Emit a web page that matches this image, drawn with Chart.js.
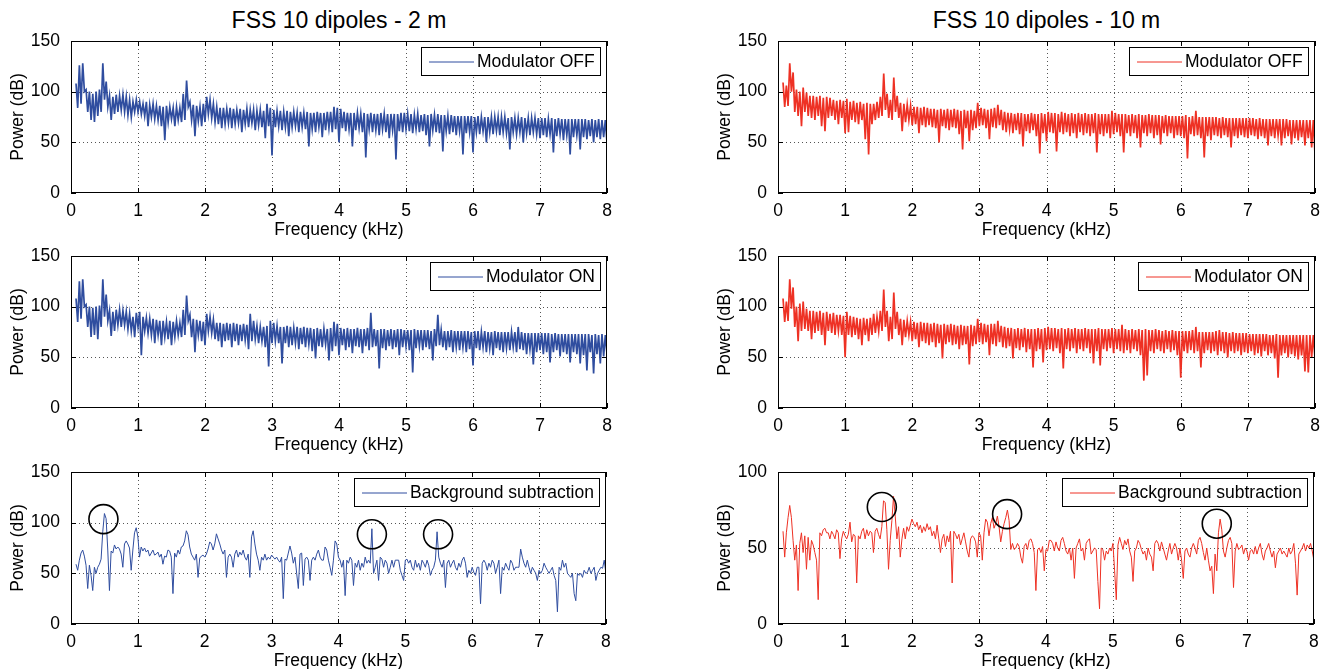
<!DOCTYPE html>
<html><head><meta charset="utf-8">
<script src="https://cdn.jsdelivr.net/npm/chart.js@4.4.1/dist/chart.umd.min.js"></script>
<style>
html,body{margin:0;padding:0;background:#fff;overflow:hidden;}
#fig{position:relative;width:1333px;height:669px;overflow:hidden;}
#fig canvas{position:absolute;}
.ttl{position:absolute;top:7px;font-family:"Liberation Sans",Arial,Helvetica,sans-serif;font-size:23px;line-height:26px;color:#000;white-space:nowrap;transform:translateX(-50%);}
</style></head><body><div id="fig"></div>
<script>
// ---------------- DATA ----------------
const freqStart = 0.075;            // kHz, first sample
const freqStep = 0.025;             // kHz between samples
const freqTicks = [0,1,2,3,4,5,6,7,8];
const powTicks150 = [0,50,100,150];
const powTicks100 = [0,50,100];
const titles = ['FSS 10 dipoles - 2 m', 'FSS 10 dipoles - 10 m'];
const seriesNames = ['Modulator OFF', 'Modulator ON', 'Background subtraction'];

// 2 m, modulator OFF (dB)
const off2m = [
108,84, 126,88, 128,100, 102,80, 100,72, 98,70, 100,76, 102,80, 128,92, 110,85,
96,72, 95,78, 97,80, 96,82, 97,80, 95,77, 92,75, 90,80, 92,80, 90,78,
88,76, 90,66, 87,75, 88,73, 86,72, 86,66, 85,52, 86,70, 85,73, 84,66,
85,72, 84,70, 98,72, 111,85, 90,72, 87,56, 86,71, 85,66, 88,70, 95,78,
92,74, 88,70, 85,68, 84,64, 84,68, 83,69, 84,64, 83,68, 82,69, 83,60,
82,68, 83,65, 82,69, 82,62, 81,67, 82,65, 81,54, 88,66, 84,37, 82,65,
81,66, 81,62, 80,65, 81,56, 80,65, 80,66, 79,60, 80,65, 79,63, 80,46,
79,63, 79,60, 80,65, 79,55, 79,62, 80,64, 80,60, 85,63, 84,50, 83,64,
80,61, 79,63, 79,46, 79,62, 79,64, 78,60, 79,35, 78,63, 79,60, 78,62,
78,57, 79,63, 78,60, 78,54, 78,62, 78,33, 78,61, 79,60, 79,63, 78,61,
78,59, 77,63, 78,60, 77,61, 78,57, 77,46, 78,62, 77,60, 78,59, 77,41,
77,61, 76,58, 77,60, 76,57, 76,61, 76,38, 76,59, 76,60, 76,40, 75,60,
76,58, 75,61, 75,50, 75,60, 75,58, 75,61, 75,57, 75,60, 75,59, 74,43,
75,60, 74,58, 74,60, 75,50, 74,59, 74,57, 74,60, 74,58, 74,54, 74,57,
74,55, 73,58, 74,40, 73,56, 74,58, 73,52, 73,57, 73,38, 73,55, 73,57,
73,43, 73,55, 73,53, 72,56, 73,50, 72,55, 73,53, 72,55, 72,50
];
// 2 m, modulator ON (dB)
const on2m = [
108,85, 125,88, 127,100, 102,80, 100,70, 99,72, 100,68, 101,80, 127,90, 112,86,
96,71, 95,76, 97,82, 97,80, 96,82, 95,78, 93,76, 90,70, 94,80, 95,52,
90,76, 89,74, 88,72, 88,64, 87,72, 86,62, 86,70, 85,68, 86,62, 85,70,
86,72, 84,70, 97,72, 111,86, 92,70, 88,55, 87,72, 86,66, 85,62, 93,76,
90,74, 87,68, 84,66, 84,60, 83,66, 84,67, 83,60, 84,66, 83,62, 82,66,
83,67, 82,58, 93,66, 86,68, 81,64, 80,66, 80,60, 81,41, 86,64, 84,66,
81,64, 80,44, 80,64, 81,60, 80,62, 79,64, 80,58, 79,63, 80,60, 79,63,
79,56, 78,49, 79,61, 78,60, 78,63, 78,47, 79,56, 85,61, 83,52, 79,62,
78,57, 79,60, 78,54, 78,61, 79,60, 78,54, 78,61, 79,57, 94,60, 78,61,
77,39, 78,59, 78,57, 77,61, 78,58, 77,60, 78,52, 78,60, 77,61, 77,57,
77,35, 78,59, 77,61, 77,57, 77,60, 77,58, 76,47, 78,61, 92,62, 77,60,
76,57, 76,60, 77,55, 76,60, 76,57, 76,60, 76,55, 76,58, 75,42, 76,59,
76,57, 75,60, 76,55, 75,59, 75,52, 76,59, 75,57, 75,55, 75,59, 75,57,
75,60, 75,55, 80,58, 75,57, 74,53, 74,58, 74,43, 74,55, 74,57, 74,53,
74,55, 74,45, 73,55, 74,57, 73,51, 73,55, 73,53, 73,45, 73,55, 73,53,
73,44, 73,52, 73,37, 73,55, 72,34, 73,53, 72,44, 73,51, 72,53
];
// 2 m, background subtraction (dB)
const sub2m = [
59,53,63,70,73,67,58,35,58,48,33,56,50,56,59,64,91,109,104,73,
33,72,70,78,74,76,74,69,56,79,82,79,75,53,73,90,95,86,66,76,
72,75,71,73,67,70,73,68,69,71,66,69,59,67,66,73,72,66,30,70,
66,73,69,76,77,82,92,88,76,69,66,63,69,46,65,67,68,66,69,74,
81,79,73,79,89,84,79,73,69,73,46,66,69,66,56,69,73,66,71,68,
73,66,63,69,46,86,92,79,69,63,53,66,63,69,63,66,64,68,66,64,
66,63,61,66,25,64,63,70,77,70,60,66,50,35,69,70,38,64,66,63,
43,63,66,63,69,73,66,63,63,76,73,63,56,48,63,82,79,66,63,56,
63,28,63,60,66,63,38,60,56,63,53,60,56,66,60,63,60,94,50,56,
63,43,66,64,56,63,60,50,56,63,56,63,63,63,53,48,43,63,64,60,
63,56,53,63,56,60,53,63,60,56,63,58,48,53,56,63,91,66,60,56,
63,36,60,63,56,60,63,56,53,60,56,63,66,60,46,53,50,56,51,48,
56,56,20,60,63,60,53,60,56,63,60,50,56,63,30,56,53,60,56,53,
63,60,53,56,56,56,74,66,60,56,63,56,50,56,53,50,43,53,50,53,
60,56,53,50,53,56,48,43,12,56,53,63,56,60,50,48,46,50,30,23,
50,48,50,46,53,50,51,56,50,53,56,43,50,53,56,55,63,50
];
// 10 m, modulator OFF (dB)
const off10m = [
109,85, 106,86, 128,100, 119,80, 102,76, 100,66, 104,80, 99,76, 96,74, 96,72,
95,76, 96,66, 94,61, 95,74, 94,76, 92,72, 91,68, 92,74, 91,59, 93,60,
90,72, 91,70, 89,68, 90,72, 88,53, 89,38, 88,68, 88,72, 90,74, 95,76,
118,82, 98,74, 92,72, 114,80, 96,74, 89,61, 88,70, 87,72, 86,67, 85,68,
85,59, 84,67, 85,65, 84,67, 83,65, 83,64, 82,50, 83,66, 82,64, 83,62,
82,65, 83,64, 82,58, 81,43, 82,64, 81,51, 82,62, 81,64, 89,66, 84,67,
83,64, 82,53, 83,65, 84,64, 87,67, 82,62, 80,60, 79,63, 79,59, 78,62,
79,58, 79,46, 78,61, 78,59, 79,62, 78,56, 78,39, 79,59, 78,51, 80,60,
79,59, 79,41, 78,60, 80,58, 79,60, 78,56, 79,59, 78,54, 79,60, 78,57,
79,59, 78,56, 78,59, 79,40, 78,58, 78,56, 78,59, 78,54, 81,58, 79,60,
78,56, 78,40, 78,59, 77,56, 78,59, 77,54, 78,45, 77,59, 77,56, 78,59,
77,54, 77,57, 77,48, 76,59, 77,56, 76,59, 76,54, 76,57, 76,56, 76,54,
77,34, 75,58, 76,56, 81,57, 75,54, 75,35, 75,56, 75,52, 75,57, 75,56,
74,54, 75,57, 74,55, 74,45, 74,56, 74,54, 74,57, 74,55, 74,54, 74,57,
74,56, 73,53, 74,56, 73,54, 73,47, 73,56, 73,54, 73,57, 73,47, 73,54,
73,56, 72,48, 72,54, 72,52, 72,55, 72,47, 72,54, 72,45, 72,38
];
// 10 m, modulator ON (dB)
const on10m = [
108,85, 105,86, 127,98, 119,80, 100,66, 103,76, 105,78, 98,76, 96,68, 96,74,
95,76, 96,72, 94,62, 95,76, 93,74, 94,72, 92,76, 92,72, 91,50, 95,72,
91,70, 90,72, 89,68, 88,62, 89,72, 88,66, 89,72, 93,74, 90,76, 96,76,
117,80, 96,66, 90,68, 114,78, 95,72, 88,62, 87,70, 86,72, 85,66, 85,68,
84,60, 85,66, 84,64, 84,62, 83,65, 84,60, 83,64, 82,49, 83,63, 82,65,
83,62, 82,63, 81,58, 82,62, 81,63, 81,43, 82,61, 81,63, 88,65, 84,63,
83,65, 82,52, 83,63, 83,61, 86,65, 81,60, 80,59, 79,61, 79,49, 78,59,
79,57, 78,60, 79,55, 78,58, 78,40, 78,56, 79,58, 78,45, 79,57, 80,58,
79,56, 79,59, 78,54, 79,39, 78,58, 79,56, 78,59, 79,54, 78,58, 78,56,
79,59, 78,54, 78,44, 78,56, 79,42, 78,58, 78,56, 78,59, 79,54, 78,58,
78,56, 82,54, 78,57, 77,54, 78,58, 77,56, 78,52, 77,27, 78,32, 77,56,
77,54, 78,58, 77,56, 76,54, 77,58, 76,55, 77,57, 76,52, 76,30, 76,56,
76,54, 76,57, 77,54, 80,56, 75,40, 75,54, 75,57, 75,54, 75,56, 76,52,
77,56, 75,54, 75,50, 74,56, 75,54, 74,56, 74,52, 74,55, 74,54, 73,56,
73,52, 73,54, 73,51, 73,56, 73,52, 72,54, 72,49, 73,30, 72,52, 72,54,
72,50, 72,53, 72,51, 72,48, 72,52, 72,36, 72,35, 72,50, 72,49
];
// 10 m, background subtraction (dB)
const sub10m = [
61,44,60,70,78,70,55,42,52,22,53,60,47,58,36,57,42,55,52,47,
42,16,60,58,62,63,60,60,56,61,59,56,62,60,43,56,61,58,56,59,
67,54,59,58,27,58,56,61,63,56,62,58,61,60,47,61,63,59,56,64,
81,80,62,36,55,68,84,71,56,64,44,56,63,56,64,61,65,69,66,64,
67,62,65,60,64,61,66,62,64,58,61,56,65,56,47,56,59,51,58,54,
61,27,61,59,56,59,52,56,60,54,48,44,56,58,57,54,44,60,58,42,
60,69,67,58,66,70,63,66,71,64,54,61,66,70,75,68,49,53,49,50,
53,51,44,40,51,53,49,55,56,53,47,22,49,50,47,51,35,49,48,55,
55,53,48,54,50,48,55,57,53,48,46,50,42,50,30,50,53,56,48,50,
42,53,55,56,46,48,50,49,28,10,50,49,42,48,46,50,48,53,35,16,
52,57,53,49,55,52,56,48,44,28,48,50,55,53,49,46,48,42,50,46,
44,35,53,55,53,48,54,50,46,42,48,53,46,50,53,50,42,50,42,30,
48,50,46,44,50,53,50,46,55,57,53,47,42,50,42,35,38,20,46,35,
60,69,62,48,44,50,55,57,53,24,48,53,49,50,52,46,50,48,42,48,
49,46,51,46,50,53,46,42,48,50,53,48,44,48,37,46,48,50,46,48,
46,44,50,46,48,53,40,19,46,48,50,53,48,52,50,53,48,42
];
// circled peaks (kHz, dB)
const circles2mFreq = [0.485, 4.50, 5.49];
const circles2mPow  = [103.5, 88.5, 88.5];
const circles10mFreq = [1.55, 3.42, 6.55];
const circles10mPow  = [77, 72.3, 66];

// ---------------- STYLE / LAYOUT ----------------
const FONT = '"Liberation Sans", Arial, Helvetica, sans-serif';
const FS = 17.5;
const BLUE = '#2f4d9f';
const RED = '#ee3124';
const PADL = 71, PADT = 25, PADR = 15, XH = 50;

const panels = [
  {vals: off2m,  name: seriesNames[0], color: BLUE, lw: 1.7, rect: [71, 41, 607, 193],  ymax: 150, yt: powTicks150},
  {vals: on2m,   name: seriesNames[1], color: BLUE, lw: 1.7, rect: [71, 256, 607, 408], ymax: 150, yt: powTicks150},
  {vals: sub2m,  name: seriesNames[2], color: BLUE, lw: 1,   rect: [71, 472, 607, 624], ymax: 150, yt: powTicks150, cf: circles2mFreq, cp: circles2mPow},
  {vals: off10m, name: seriesNames[0], color: RED,  lw: 1.7, rect: [778, 41, 1315, 193],  ymax: 150, yt: powTicks150},
  {vals: on10m,  name: seriesNames[1], color: RED,  lw: 1.7, rect: [778, 256, 1315, 408], ymax: 150, yt: powTicks150},
  {vals: sub10m, name: seriesNames[2], color: RED,  lw: 1,   rect: [778, 472, 1315, 624], ymax: 100, yt: powTicks100, cf: circles10mFreq, cp: circles10mPow}
];

const axesBox = {
  id: 'axesBox',
  beforeDatasetsDraw(chart) {
    const {ctx, chartArea: a, scales: {x, y}} = chart;
    ctx.save();
    ctx.strokeStyle = '#555';
    ctx.lineWidth = 1;
    ctx.setLineDash([1, 3]);
    ctx.beginPath();
    x.ticks.forEach(t => {
      if (t.value <= x.min || t.value >= x.max) return;
      const px = Math.round(x.getPixelForValue(t.value)) + 0.5;
      ctx.moveTo(px, a.top); ctx.lineTo(px, a.bottom);
    });
    y.ticks.forEach(t => {
      if (t.value <= y.min || t.value >= y.max) return;
      const py = Math.round(y.getPixelForValue(t.value)) + 0.5;
      ctx.moveTo(a.left, py); ctx.lineTo(a.right, py);
    });
    ctx.stroke();
    ctx.restore();
  },
  afterDatasetsDraw(chart) {
    const {ctx, chartArea: a, scales: {x, y}} = chart;
    ctx.save();
    ctx.strokeStyle = '#000';
    ctx.lineWidth = 1;
    ctx.beginPath();
    const L = 5;
    x.ticks.forEach(t => {
      const px = Math.round(x.getPixelForValue(t.value)) + 0.5;
      ctx.moveTo(px, a.bottom); ctx.lineTo(px, a.bottom - L);
      ctx.moveTo(px, a.top); ctx.lineTo(px, a.top + L);
    });
    y.ticks.forEach(t => {
      const py = Math.round(y.getPixelForValue(t.value)) + 0.5;
      ctx.moveTo(a.left, py); ctx.lineTo(a.left + L, py);
      ctx.moveTo(a.right, py); ctx.lineTo(a.right - L, py);
    });
    ctx.stroke();
    ctx.strokeRect(Math.round(a.left) + 0.5, Math.round(a.top) + 0.5,
                   Math.round(a.right - a.left) - 1, Math.round(a.bottom - a.top) - 1);
    ctx.restore();
  }
};

const boxLegend = {
  id: 'boxLegend',
  afterDraw(chart) {
    const ds = chart.data.datasets[0];
    const {ctx, chartArea: a} = chart;
    ctx.save();
    ctx.font = FS + 'px ' + FONT;
    const tw = ctx.measureText(ds.label).width;
    const bw = Math.round(8 + 45 + 3 + tw + 5), bh = 28;
    const bx = Math.round(a.right - 7 - bw), by = Math.round(a.top + 6);
    ctx.fillStyle = '#fff';
    ctx.fillRect(bx, by, bw, bh);
    ctx.strokeStyle = '#000';
    ctx.lineWidth = 1;
    ctx.strokeRect(bx + 0.5, by + 0.5, bw, bh);
    const cy = by + bh / 2 + 1;
    ctx.strokeStyle = ds.borderColor;
    ctx.beginPath();
    ctx.moveTo(bx + 8, cy); ctx.lineTo(bx + 53, cy);
    ctx.stroke();
    ctx.fillStyle = '#000';
    ctx.textAlign = 'left';
    ctx.textBaseline = 'middle';
    ctx.fillText(ds.label, bx + 56, cy);
    ctx.restore();
  }
};

const fig = document.getElementById('fig');
[[titles[0], (71 + 607) / 2], [titles[1], (778 + 1315) / 2]].forEach(([t, cx]) => {
  const d = document.createElement('div');
  d.className = 'ttl'; d.textContent = t; d.style.left = cx + 'px';
  fig.appendChild(d);
});

panels.forEach(p => {
  const [l, t, r, b] = p.rect;
  const w = (r - l) + PADL + PADR, h = (b - t) + PADT + XH;
  const c = document.createElement('canvas');
  c.width = w; c.height = h;
  c.style.left = (l - PADL) + 'px'; c.style.top = (t - PADT) + 'px';
  c.style.width = w + 'px'; c.style.height = h + 'px';
  fig.appendChild(c);

  const pts = p.vals.map((v, i) => ({x: freqStart + i * freqStep, y: v}));
  const datasets = [{
    label: p.name, data: pts, borderColor: p.color, borderWidth: p.lw,
    pointRadius: 0, fill: false, tension: 0, order: 2, borderJoinStyle: 'miter'
  }];
  if (p.cf) {
    datasets.push({
      label: 'marks', data: p.cf.map((f, i) => ({x: f, y: p.cp[i]})),
      showLine: false, pointRadius: 14.5, pointHoverRadius: 14.5,
      pointBorderColor: '#000', pointBackgroundColor: 'rgba(0,0,0,0)',
      pointBorderWidth: 1.6, order: 1, clip: false
    });
  }
  new Chart(c, {
    type: 'line',
    data: {datasets},
    plugins: [axesBox, boxLegend],
    options: {
      responsive: false, animation: false, devicePixelRatio: 1, events: [],
      layout: {padding: {left: 0, top: PADT, right: PADR, bottom: 0}},
      plugins: {legend: {display: false}, tooltip: {enabled: false}, title: {display: false}},
      scales: {
        x: {
          type: 'linear', min: 0, max: 8,
          afterBuildTicks: s => { s.ticks = freqTicks.map(v => ({value: v})); },
          afterFit: s => { s.height = XH; },
          grid: {display: false}, border: {display: false},
          ticks: {color: '#000', font: {family: FONT, size: FS}, padding: 0, maxRotation: 0, autoSkip: false},
          title: {display: true, text: 'Frequency (kHz)', color: '#000', font: {family: FONT, size: FS}, padding: {top: 0, bottom: 2}}
        },
        y: {
          type: 'linear', min: 0, max: p.ymax,
          afterBuildTicks: s => { s.ticks = p.yt.map(v => ({value: v})); },
          afterFit: s => { s.width = PADL; },
          grid: {display: false}, border: {display: false},
          ticks: {color: '#000', font: {family: FONT, size: FS}, padding: 3},
          title: {display: true, text: 'Power (dB)', color: '#000', font: {family: FONT, size: FS}, padding: {top: 7.5, bottom: 0}}
        }
      }
    }
  });
});
</script>
</body></html>
